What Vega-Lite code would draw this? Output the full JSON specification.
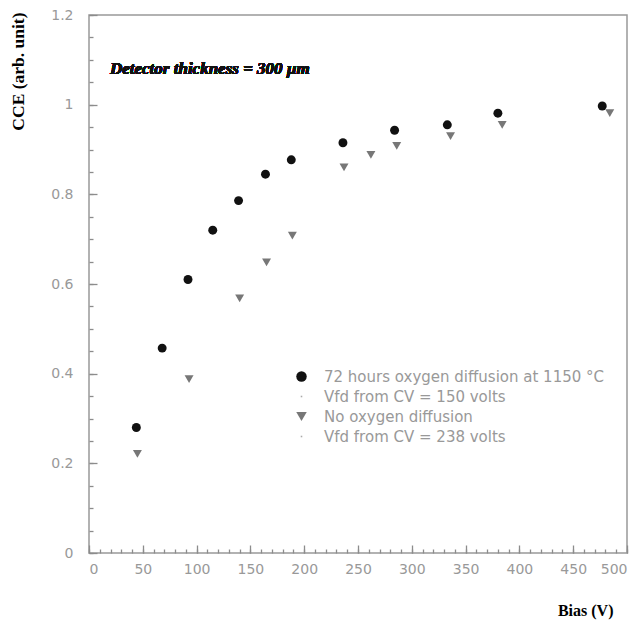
{
  "$schema": "https://vega.github.io/schema/vega-lite/v6.json",
  "width": 538,
  "height": 538,
  "autosize": "none",
  "padding": {"left": 89, "top": 15, "right": 15, "bottom": 71},
  "background": "white",
  "config": {
    "view": {"stroke": "#999", "strokeWidth": 1.5},
    "axis": {
      "domain": false,
      "tickColor": "#8c8c8c",
      "tickWidth": 1.3,
      "grid": false,
      "labelFont": "DejaVu Sans",
      "labelFontSize": 14,
      "labelColor": "#999",
      "labelOverlap": false,
      "titleFont": "Liberation Serif",
      "titleFontWeight": "bold",
      "titleFontSize": 16,
      "titleColor": "#000"
    }
  },
  "data": {
    "values": [
      {"bias": 44, "cce": 0.28, "series": "72 hours oxygen diffusion at 1150 °C"},
      {"bias": 68, "cce": 0.457, "series": "72 hours oxygen diffusion at 1150 °C"},
      {"bias": 92, "cce": 0.61, "series": "72 hours oxygen diffusion at 1150 °C"},
      {"bias": 115, "cce": 0.72, "series": "72 hours oxygen diffusion at 1150 °C"},
      {"bias": 139, "cce": 0.786, "series": "72 hours oxygen diffusion at 1150 °C"},
      {"bias": 164, "cce": 0.845, "series": "72 hours oxygen diffusion at 1150 °C"},
      {"bias": 188, "cce": 0.877, "series": "72 hours oxygen diffusion at 1150 °C"},
      {"bias": 236, "cce": 0.915, "series": "72 hours oxygen diffusion at 1150 °C"},
      {"bias": 284, "cce": 0.943, "series": "72 hours oxygen diffusion at 1150 °C"},
      {"bias": 333, "cce": 0.955, "series": "72 hours oxygen diffusion at 1150 °C"},
      {"bias": 380, "cce": 0.981, "series": "72 hours oxygen diffusion at 1150 °C"},
      {"bias": 477, "cce": 0.997, "series": "72 hours oxygen diffusion at 1150 °C"},
      {"bias": 45, "cce": 0.221, "series": "No oxygen diffusion"},
      {"bias": 93, "cce": 0.388, "series": "No oxygen diffusion"},
      {"bias": 140, "cce": 0.568, "series": "No oxygen diffusion"},
      {"bias": 165, "cce": 0.648, "series": "No oxygen diffusion"},
      {"bias": 189, "cce": 0.708, "series": "No oxygen diffusion"},
      {"bias": 237, "cce": 0.86, "series": "No oxygen diffusion"},
      {"bias": 262, "cce": 0.888, "series": "No oxygen diffusion"},
      {"bias": 286, "cce": 0.908, "series": "No oxygen diffusion"},
      {"bias": 336, "cce": 0.93, "series": "No oxygen diffusion"},
      {"bias": 384, "cce": 0.955, "series": "No oxygen diffusion"},
      {"bias": 484, "cce": 0.981, "series": "No oxygen diffusion"}
    ]
  },
  "resolve": {"axis": {"x": "independent", "y": "independent"}},
  "layer": [
    {
      "description": "minor ticks every 10 V and every 0.05 CCE, pointing into the frame",
      "mark": {"type": "point", "opacity": 0},
      "encoding": {
        "x": {
          "field": "bias", "type": "quantitative",
          "scale": {"domain": [0, 500], "nice": false, "zero": false},
          "axis": {
            "orient": "bottom", "title": null, "labels": false,
            "offset": -4, "tickSize": 4,
            "values": [0,10,20,30,40,50,60,70,80,90,100,110,120,130,140,150,160,170,180,190,200,210,220,230,240,250,260,270,280,290,300,310,320,330,340,350,360,370,380,390,400,410,420,430,440,450,460,470,480,490,500]
          }
        },
        "y": {
          "field": "cce", "type": "quantitative",
          "scale": {"domain": [0, 1.2], "nice": false, "zero": false},
          "axis": {
            "orient": "left", "title": null, "labels": false,
            "offset": -4, "tickSize": 4,
            "values": [0,0.05,0.1,0.15,0.2,0.25,0.3,0.35,0.4,0.45,0.5,0.55,0.6,0.65,0.7,0.75,0.8,0.85,0.9,0.95,1,1.05,1.1,1.15,1.2]
          }
        }
      }
    },
    {
      "mark": {"type": "point", "filled": true, "opacity": 1, "size": 80, "strokeWidth": 0},
      "encoding": {
        "x": {
          "field": "bias", "type": "quantitative",
          "axis": {
            "orient": "bottom", "title": "Bias (V)",
            "values": [0,50,100,150,200,250,300,350,400,450,500],
            "format": "d",
            "offset": -8, "tickSize": 8, "labelPadding": 9,
            "titleAlign": "right", "titleBaseline": "middle",
            "titleX": 524, "titleY": 65
          }
        },
        "y": {
          "field": "cce", "type": "quantitative",
          "axis": {
            "orient": "left", "title": "CCE (arb. unit)",
            "values": [0,0.2,0.4,0.6,0.8,1,1.2],
            "format": "~g",
            "offset": -8, "tickSize": 8, "labelPadding": 16,
            "titleFontSize": 17.5,
            "titleAngle": -90, "titleAlign": "right", "titleBaseline": "middle",
            "titleX": -79, "titleY": -3
          }
        },
        "color": {
          "field": "series", "type": "nominal",
          "scale": {
            "domain": ["72 hours oxygen diffusion at 1150 °C", "Vfd from CV = 150 volts", "No oxygen diffusion", "Vfd from CV = 238 volts"],
            "range": ["#111111", "#aaaaaa", "#777777", "#aaaaaa"]
          },
          "legend": {
            "title": null,
            "orient": "none",
            "legendX": 205,
            "legendY": 354,
            "padding": 0,
            "symbolSize": 110,
            "symbolStrokeWidth": 0,
            "rowPadding": 4,
            "labelFont": "DejaVu Sans",
            "labelFontSize": 15,
            "labelColor": "#999",
            "labelOffset": 15,
            "labelLimit": 400
          }
        },
        "shape": {
          "field": "series", "type": "nominal",
          "scale": {
            "domain": ["72 hours oxygen diffusion at 1150 °C", "Vfd from CV = 150 volts", "No oxygen diffusion", "Vfd from CV = 238 volts"],
            "range": ["circle", "M-0.15,-0.15L0.15,-0.15L0.15,0.15L-0.15,0.15Z", "triangle-down", "M-0.15,-0.15L0.15,-0.15L0.15,0.15L-0.15,0.15Z"]
          },
          "legend": {
            "title": null,
            "orient": "none",
            "legendX": 205,
            "legendY": 354
          }
        }
      }
    },
    {
      "mark": {
        "type": "text",
        "text": "Detector thickness = 300 µm",
        "align": "left",
        "baseline": "middle",
        "font": "Liberation Serif",
        "fontStyle": "italic",
        "fontWeight": "bold",
        "fontSize": 17,
        "color": "#111"
      },
      "encoding": {
        "x": {"datum": 19.5, "type": "quantitative", "axis": null},
        "y": {"datum": 1.08, "type": "quantitative", "axis": null}
      }
    }
  ]
}
